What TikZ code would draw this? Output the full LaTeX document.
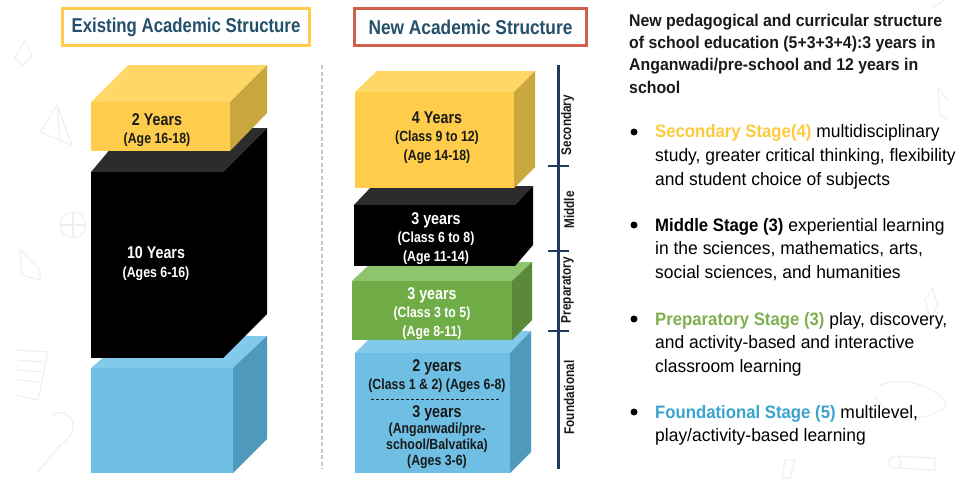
\documentclass[tikz,border=0pt]{standalone}
\usepackage{fontspec}
\setmainfont{Liberation Sans}[FakeStretch=0.84]
\newfontfamily\bodyfont{Liberation Sans}[FakeStretch=0.97,BoldFeatures={FakeStretch=0.93}]
\newfontfamily\headfont{Liberation Sans}[FakeStretch=0.933]
\definecolor{titleblue}{HTML}{24506B}
\definecolor{ink}{HTML}{1A1A1A}
\definecolor{barblue}{HTML}{1F3A5C}
\definecolor{boxred}{HTML}{D0604A}
\definecolor{ylwF}{HTML}{FFCD4B}\definecolor{ylwT}{HTML}{FFD766}\definecolor{ylwS}{HTML}{C9A73C}
\definecolor{grnF}{HTML}{70AD47}\definecolor{grnT}{HTML}{8CC56C}\definecolor{grnS}{HTML}{5A8A39}
\definecolor{bluF}{HTML}{6EBFE3}\definecolor{bluT}{HTML}{82CAEA}\definecolor{bluS}{HTML}{4F99BC}
\definecolor{blkT}{HTML}{2C2C2C}
\definecolor{secY}{HTML}{FFC93C}\definecolor{preG}{HTML}{7FB04F}\definecolor{fndB}{HTML}{3BA3CF}
\definecolor{doodle}{HTML}{F0F0F0}
\tikzset{
 titlebox/.style={draw,line width=2.6pt,fill=white,text=titleblue,font=\bfseries\fontsize{20}{20}\selectfont,anchor=center,inner sep=0pt},
 blocktext/.style={align=center,font=\bfseries\fontsize{14.7}{18.5}\selectfont,inner sep=0pt},
 tightblock/.style={blocktext,font=\bfseries\fontsize{14.7}{16}\selectfont},
 ruletick/.style={barblue,line width=2.6pt},
 stagelabel/.style={rotate=90,font=\bfseries\fontsize{14}{14}\selectfont,text=ink,inner sep=0pt},
 para/.style={anchor=north west,align=left,inner sep=0pt,text=black,font=\bodyfont\fontsize{18}{23.7}\selectfont},
 dotmark/.style={circle,fill=black,minimum size=7pt,inner sep=0pt},
 sketch/.style={draw=doodle,line width=1.2pt,line join=round},
}
\newcommand{\bigyr}{\fontsize{17}{18.5}\selectfont}
\newcommand{\blockfaces}[9]{%
 \fill[#9T] (#1,#3)--(#5,#7)--(#6,#7)--(#2,#3)--cycle;
 \fill[#9S] (#2,#3)--(#6,#7)--(#6,#8)--(#2,#4)--cycle;
 \fill[#9F] (#1,#3) rectangle (#2,#4);
}
\begin{document}
\begin{tikzpicture}[x=1pt,y=-1pt]
\useasboundingbox (0,0) rectangle (966,483);
\fill[white] (0,0) rectangle (966,483);
% faint background sketches
\draw[sketch] (57,105)--(40,132)--(72,145)--cycle (57,105)--(60,138);
\draw[sketch] (73,225) circle (13);
\draw[sketch] (60,225)--(86,225) (73,212)--(73,238);
\draw[sketch] (15,350)--(48,352)--(38,400)--(15,395);
\draw[sketch] (18,360)--(44,362) (18,370)--(42,372) (18,380)--(40,382);
\draw[sketch] (25,40)--(32,57)--(22,65)--(15,58)--cycle;
\draw[sketch] (52,415) .. controls (70,405) and (85,430) .. (60,445) -- (37,473);
\draw[sketch] (20,250)--(40,270)--(40,280)--(22,275)--cycle;
\draw[sketch] (895,462) circle (6);
\draw[sketch] (895,456)--(935,458)--(935,470)--(895,468);
\draw[sketch] (925,300)--(932,288)--(938,305)--(930,318)--cycle;
\draw[sketch] (880,385) .. controls (925,370) and (960,410) .. (940,410) .. controls (920,425) and (880,415) .. (875,395);
\draw[sketch] (785,460)--(795,460)--(790,478)--(782,478)--cycle;
\draw[sketch] (932,8)--(945,0) (948,100)--(938,88)--(940,115)--(948,120);
% titles
\node[titlebox,draw=ylwF,minimum width=247pt,minimum height=37pt] (t1) at (186,27) {Existing Academic Structure};
\node[titlebox,draw=boxred,minimum width=232pt,minimum height=37pt] (t2) at (470.5,27) {\addfontfeature{FakeStretch=0.865}New Academic Structure};
% left column
\blockfaces{91}{233}{368}{473}{128}{267}{336}{439}{blu}
\colorlet{blkF}{black}\colorlet{blkS}{black}
\blockfaces{91}{223}{172}{358}{128}{267}{128}{314}{blk}
\blockfaces{91}{230}{102}{151}{128}{267}{65}{113}{ylw}
\node[blocktext,text=ink] (a1) at (157,130) {{\bigyr 2 Years}\\(Age 16-18)};
\node[blocktext,text=white] (a2) at (156,263.500) {{\bigyr 10 Years}\\(Ages 6-16)};
% divider
\draw[gray!45,line width=1.8pt,dash pattern=on 4pt off 2.5pt] (322,65)--(322,469);
% new column
\blockfaces{355}{510}{353}{473}{377}{531}{331}{452}{blu}
\blockfaces{352}{512}{281}{340}{372}{532}{262}{320}{grn}
\blockfaces{354}{515}{205}{266}{372}{533}{186}{245}{blk}
\blockfaces{355}{514}{92}{188}{377}{535}{71}{167}{ylw}
\node[blocktext,text=ink] (b1) at (437,137.500) {{\bigyr 4 Years}\\(Class 9 to 12)\\(Age 14-18)};
\node[blocktext,text=white] (b2) at (436,238.500) {{\bigyr 3 years}\\(Class 6 to 8)\\(Age 11-14)};
\node[blocktext,text=white] (b3) at (432,313.500) {{\bigyr 3 years}\\(Class 3 to 5)\\(Age 8-11)};
\node[blocktext,text=ink] (b4) at (437,376) {{\bigyr 2 years}\\(Class 1 \& 2) (Ages 6-8)};
\draw[ink,line width=.5pt,densely dashed] (371,399.500)--(500,399.500);
\node[tightblock,text=ink] (b5) at (437,437.500) {{\bigyr 3 years}\\(Anganwadi/pre-\\school/Balvatika)\\(Ages 3-6)};
% stage rule
\coordinate (rt) at (558,65); \coordinate (rb) at (558,469);
\draw[barblue,line width=3pt] (rt)--(rb);
\draw[ruletick] (548,166)--(569,166);
\draw[ruletick] (548,251)--(569,251);
\draw[ruletick] (548,331)--(569,331);
\node[stagelabel] (s1) at (567.500,125) {Secondary};
\node[stagelabel] (s2) at (569,210) {Middle};
\node[stagelabel] (s3) at (567.500,290) {Preparatory};
\node[stagelabel] (s4) at (569,397.500) {Foundational};
% right text
\node[para,font=\headfont\bfseries\fontsize{17}{22.4}\selectfont,text=ink] (h) at (629,13.500) {New pedagogical and curricular structure\\of school education (5+3+3+4):3 years in\\Anganwadi/pre-school and 12 years in\\school};
\node[dotmark] (d1) at (634,132) {};
\node[para] (p1) at (655,124.500) {\textbf{\textcolor{secY}{Secondary Stage(4)}} multidisciplinary\\study, greater critical thinking, flexibility\\and student choice of subjects};
\node[dotmark] (d2) at (634,225) {};
\node[para] (p2) at (655,218) {\textbf{Middle Stage (3)} experiential learning\\in the sciences, mathematics, arts,\\social sciences, and humanities};
\node[dotmark] (d3) at (634,319) {};
\node[para] (p3) at (655,312) {\textbf{\textcolor{preG}{Preparatory Stage (3)}} play, discovery,\\and activity-based and interactive\\classroom learning};
\node[dotmark] (d4) at (634,412) {};
\node[para] (p4) at (655,405) {\textbf{\textcolor{fndB}{Foundational Stage (5)}} multilevel,\\play/activity-based learning};
\end{tikzpicture}
\end{document}
